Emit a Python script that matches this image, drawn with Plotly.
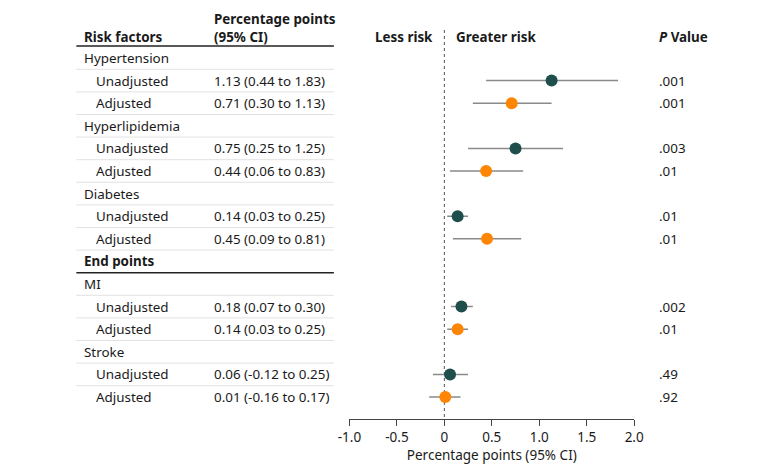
import plotly.graph_objects as go

# ---- data ----
row_labels = ["Hypertension", "Unadjusted", "Adjusted",
              "Hyperlipidemia", "Unadjusted", "Adjusted",
              "Diabetes", "Unadjusted", "Adjusted",
              "End points",
              "MI", "Unadjusted", "Adjusted",
              "Stroke", "Unadjusted", "Adjusted"]
row_kind = ["group", "sub", "sub", "group", "sub", "sub", "group", "sub", "sub",
            "section", "group", "sub", "sub", "group", "sub", "sub"]
estimate = [None, 1.13, 0.71, None, 0.75, 0.44, None, 0.14, 0.45, None,
            None, 0.18, 0.14, None, 0.06, 0.01]
ci_low = [None, 0.44, 0.30, None, 0.25, 0.06, None, 0.03, 0.09, None,
          None, 0.07, 0.03, None, -0.12, -0.16]
ci_high = [None, 1.83, 1.13, None, 1.25, 0.83, None, 0.25, 0.81, None,
           None, 0.30, 0.25, None, 0.25, 0.17]
ci_text = [None, "1.13 (0.44 to 1.83)", "0.71 (0.30 to 1.13)", None,
           "0.75 (0.25 to 1.25)", "0.44 (0.06 to 0.83)", None,
           "0.14 (0.03 to 0.25)", "0.45 (0.09 to 0.81)", None,
           None, "0.18 (0.07 to 0.30)", "0.14 (0.03 to 0.25)", None,
           "0.06 (-0.12 to 0.25)", "0.01 (-0.16 to 0.17)"]
p_values = [None, ".001", ".001", None, ".003", ".01", None, ".01", ".01", None,
            None, ".002", ".01", None, ".49", ".92"]
x_ticks = [-1.0, -0.5, 0, 0.5, 1.0, 1.5, 2.0]
x_tick_labels = ["-1.0", "-0.5", "0", "0.5", "1.0", "1.5", "2.0"]

FONT = "Noto Sans"
TXT = "#1a1a1a"
TEAL = "#1f4f4d"
ORANGE = "#ff8505"
W, H = 780, 472
OFF = 8          # page offset of the figure
ROW0, ROWH = 58, 22.6


def px(X):
    return (X - OFF) / W


def row_of(Y):
    return (Y - ROW0) / ROWH


fig = go.Figure()

for i, (e, lo, hi) in enumerate(zip(estimate, ci_low, ci_high)):
    if e is None:
        continue
    fig.add_trace(go.Scatter(x=[lo, hi], y=[i, i], mode="lines",
                             line=dict(color="#8a8a8a", width=1.5),
                             hoverinfo="skip", showlegend=False))
for i, e in enumerate(estimate):
    if e is None:
        continue
    color = TEAL if row_labels[i] == "Unadjusted" else ORANGE
    fig.add_trace(go.Scatter(x=[e], y=[i], mode="markers",
                             marker=dict(color=color, size=12, line=dict(width=0)),
                             showlegend=False))

axis_y = 419
fig.add_shape(type="line", xref="x", yref="y", x0=0, x1=0,
              y0=row_of(30), y1=row_of(axis_y),
              line=dict(color="#555555", width=1, dash="dot"), layer="below")

FS = 13.4
body_font = dict(size=FS, color=TXT, family=FONT)
ann = []
for i, lab in enumerate(row_labels):
    kind = row_kind[i]
    xx = px(84) if kind == "sub" else px(72)
    txt = "<b>" + lab + "</b>" if kind == "section" else lab
    ann.append(dict(x=xx, y=i, xref="paper", yref="y", text=txt, showarrow=False,
                    xanchor="left", yanchor="middle", font=body_font))
    if ci_text[i]:
        ann.append(dict(x=px(206), y=i, xref="paper", yref="y", text=ci_text[i], showarrow=False,
                        xanchor="left", yanchor="middle", font=body_font))
    if p_values[i]:
        ann.append(dict(x=px(664), y=i, xref="paper", yref="y", text=p_values[i], showarrow=False,
                        xanchor="left", yanchor="middle", font=body_font))

hdr_font = dict(size=13.4, color=TXT, family=FONT)
ann += [
    dict(x=px(72), y=row_of(37), xref="paper", yref="y", text="<b>Risk factors</b>", showarrow=False,
         xanchor="left", yanchor="middle", font=hdr_font),
    dict(x=px(206), y=row_of(19), xref="paper", yref="y", text="<b>Percentage points</b>", showarrow=False,
         xanchor="left", yanchor="middle", font=hdr_font),
    dict(x=px(206), y=row_of(37), xref="paper", yref="y", text="<b>(95% CI)</b>", showarrow=False,
         xanchor="left", yanchor="middle", font=hdr_font),
    dict(x=-0.1, y=row_of(37), xref="x", yref="y", text="<b>Less risk</b>", showarrow=False,
         xanchor="right", yanchor="middle", font=hdr_font),
    dict(x=0.1, y=row_of(37), xref="x", yref="y", text="<b>Greater risk</b>", showarrow=False,
         xanchor="left", yanchor="middle", font=hdr_font),
    dict(x=px(664), y=row_of(37), xref="paper", yref="y", text="<b><i>P</i> Value</b>", showarrow=False,
         xanchor="left", yanchor="middle", font=hdr_font),
]

tx0, tx1 = px(66), px(331)
for i in range(len(row_labels) - 1):
    if i == 9:
        continue
    fig.add_shape(type="line", xref="paper", yref="y", x0=tx0, x1=tx1,
                  y0=i + 0.5, y1=i + 0.5, line=dict(color="#e2e2e2", width=1))
for yy in (row_of(46), 9.5):
    fig.add_shape(type="line", xref="paper", yref="y", x0=tx0, x1=tx1,
                  y0=yy, y1=yy, line=dict(color="#222222", width=1.5))

top_fig, bot_fig = 0, axis_y - OFF
y_top = row_of(top_fig + OFF)
y_bot = row_of(bot_fig + OFF)

fig.update_layout(
    width=W, height=H,
    margin=dict(l=0, r=0, t=0, b=H - bot_fig),
    paper_bgcolor="white", plot_bgcolor="white",
    font=dict(family=FONT, color=TXT, size=13),
    annotations=ann,
    showlegend=False,
    xaxis=dict(domain=[px(347), px(640)], range=[-1.0, 2.0], tickmode="array",
               tickvals=x_ticks, ticktext=x_tick_labels,
               showline=True, linecolor="#444444", linewidth=1,
               ticks="outside", ticklen=6, tickcolor="#444444",
               showgrid=False, zeroline=False,
               tickfont=dict(size=13.5, color=TXT, family=FONT),
               title=dict(text="Percentage points (95% CI)", standoff=5,
                          font=dict(size=13.5, color=TXT, family=FONT))),
    yaxis=dict(range=[y_bot, y_top], visible=False, showgrid=False, zeroline=False),
)

fig.write_html("out.html")
